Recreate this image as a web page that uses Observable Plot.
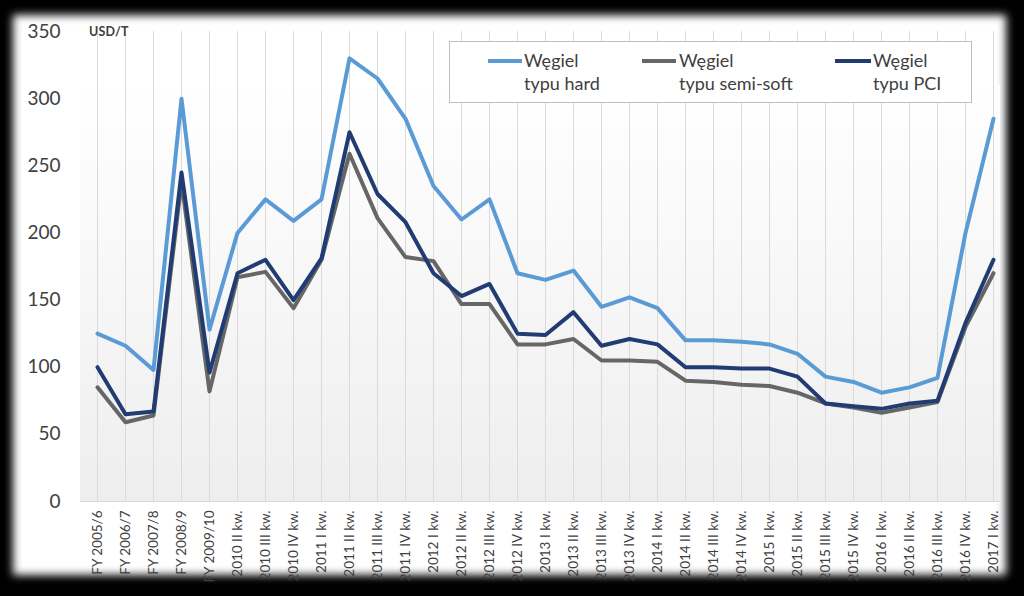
<!DOCTYPE html>
<html>
<head>
<meta charset="utf-8">
<script src="https://cdn.jsdelivr.net/npm/d3@7"></script>
<script src="https://cdn.jsdelivr.net/npm/@observablehq/plot@0.6"></script>
<style>
  html, body { margin: 0; padding: 0; background: #000; }
  #wrap { position: relative; width: 1024px; height: 596px; overflow: hidden; background: #000; font-family: Lato, "Open Sans", sans-serif; color: #404040; }
  #panel { position: absolute; left: 13px; top: 15px; width: 993px; height: 560px; background: #fff; filter: blur(4px); }
  #plotbg { position: absolute; left: 80px; top: 85px; width: 920px; height: 416px; background: linear-gradient(#ffffff, #eeeeee); border-bottom: 1px solid #d9d9d9; }
  #chart { position: absolute; left: 0; top: 0; }
  #unit { position: absolute; left: 89px; top: 24px; font-size: 12.5px; font-weight: 700; color: #404040; letter-spacing: 0.2px; }
  #legend { position: absolute; left: 449px; top: 41px; width: 521px; height: 60px; border: 1px solid #bfbfbf; background: #fff; }
  .sw { position: absolute; top: 17px; height: 4px; }
  .lt { position: absolute; top: 7px; font-size: 18px; line-height: 23px; white-space: nowrap; color: #404040; }
</style>
</head>
<body>
<div id="wrap">
  <div id="panel"></div>
  <div id="plotbg"></div>
  <div id="chart"></div>
  <div id="unit">USD/T</div>
  <div id="legend"></div>
</div>
<script>
const categories = [
  "FY 2005/6", "FY 2006/7", "FY 2007/8", "FY 2008/9", "FY 2009/10",
  "2010 II kw.", "2010 III kw.", "2010 IV kw.",
  "2011 I kw.", "2011 II kw.", "2011 III kw.", "2011 IV kw.",
  "2012 I kw.", "2012 II kw.", "2012 III kw.", "2012 IV kw.",
  "2013 I kw.", "2013 II kw.", "2013 III kw.", "2013 IV kw.",
  "2014 I kw.", "2014 II kw.", "2014 III kw.", "2014 IV kw.",
  "2015 I kw.", "2015 II kw.", "2015 III kw.", "2015 IV kw.",
  "2016 I kw.", "2016 II kw.", "2016 III kw.", "2016 IV kw.",
  "2017 I kw."
];
const hard = [125, 116, 98, 300, 128, 200, 225, 209, 225, 330, 315, 285, 235, 210, 225, 170, 165, 172, 145, 152, 144, 120, 120, 119, 117, 110, 93, 89, 81, 85, 92, 200, 285];
const semiSoft = [85, 59, 64, 238, 82, 167, 171, 144, 180, 259, 211, 182, 179, 147, 147, 117, 117, 121, 105, 105, 104, 90, 89, 87, 86, 81, 73, 70, 66, 70, 74, 130, 170];
const pci = [100, 65, 67, 245, 96, 170, 180, 150, 181, 275, 229, 208, 170, 153, 162, 125, 124, 141, 116, 121, 117, 100, 100, 99, 99, 93, 73, 71, 69, 73, 75, 133, 180];
const seriesNames = [["Węgiel", "typu hard"], ["Węgiel", "typu semi-soft"], ["Węgiel", "typu PCI"]];
const seriesKeys = ["hard", "semi-soft", "PCI"];
const seriesColors = ["#5b9bd5", "#666666", "#203c72"];
const yTicks = [0, 50, 100, 150, 200, 250, 300, 350];

const seriesValues = [hard, semiSoft, pci];
const rows = [];
seriesKeys.forEach((k, si) => {
  categories.forEach((c, i) => rows.push({cat: c, value: seriesValues[si][i], series: k}));
});

const chart = Plot.plot({
  width: 1024,
  height: 596,
  marginLeft: 94,
  marginRight: 29,
  marginTop: 31,
  marginBottom: 95,
  style: {background: "transparent", fontFamily: "Lato, 'Open Sans', sans-serif", color: "#404040", overflow: "visible"},
  x: {type: "point", domain: categories, padding: 0},
  y: {domain: [0, 350]},
  color: {domain: seriesKeys, range: seriesColors},
  marks: [
    Plot.ruleX(categories, {stroke: "#dadada", strokeWidth: 1}),
    Plot.line(rows, {x: "cat", y: "value", z: "series", stroke: "series", strokeWidth: 4, strokeLinejoin: "round", strokeLinecap: "round"}),
    Plot.axisX({tickRotate: -90, tickSize: 0, tickPadding: 9, fontSize: 13.5, label: null}),
    Plot.axisY({ticks: yTicks, tickSize: 0, tickPadding: 34, fontSize: 19, label: null})
  ]
});
document.getElementById("chart").appendChild(chart);

// legend built from the series arrays
const legend = document.getElementById("legend");
const swLeft = [38, 192, 385];
const swWidth = [34, 34, 36];
const txtLeft = [74, 229, 423];
seriesKeys.forEach((k, i) => {
  const sw = document.createElement("div");
  sw.className = "sw";
  sw.style.left = swLeft[i] + "px";
  sw.style.width = swWidth[i] + "px";
  sw.style.background = seriesColors[i];
  legend.appendChild(sw);
  const t = document.createElement("div");
  t.className = "lt";
  t.style.left = txtLeft[i] + "px";
  t.innerHTML = seriesNames[i].join("<br>");
  legend.appendChild(t);
});
</script>
</body>
</html>
